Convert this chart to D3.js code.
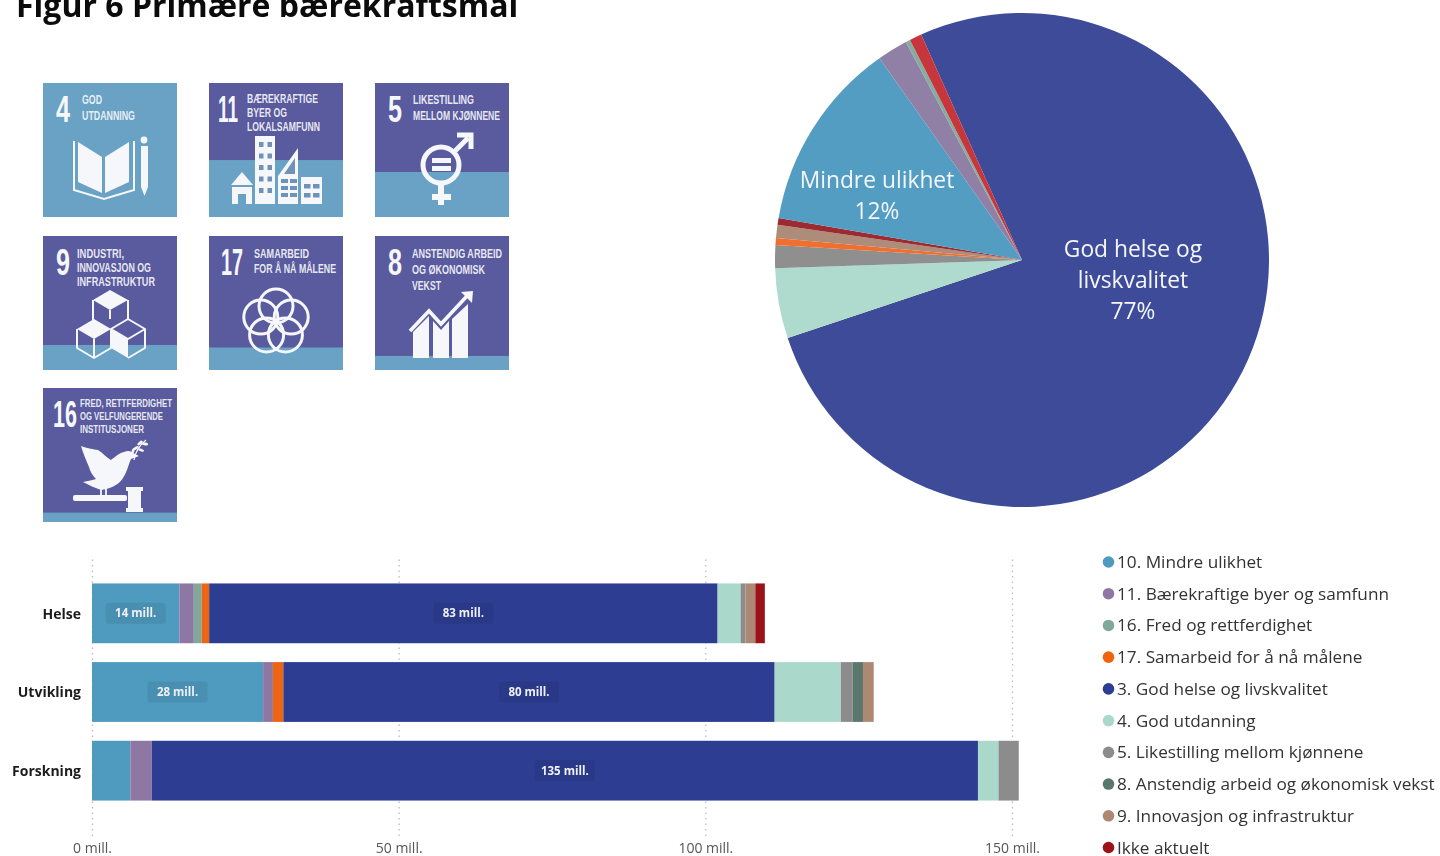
<!DOCTYPE html>
<html lang="no"><head><meta charset="utf-8">
<script src="https://cdn.jsdelivr.net/npm/d3@7/dist/d3.min.js"></script>
<style>
html,body{margin:0;padding:0;background:#fff;overflow:hidden}
svg{display:block}
.soft{filter:blur(.45px)}
</style></head><body>
<svg id="chart" width="1440" height="856"></svg>
<script>
// ---------- data ----------
const titleText = "Figur 6 Primære bærekraftsmål";
const goalNames = ["10. Mindre ulikhet","11. Bærekraftige byer og samfunn","16. Fred og rettferdighet","17. Samarbeid for å nå målene","3. God helse og livskvalitet","4. God utdanning","5. Likestilling mellom kjønnene","8. Anstendig arbeid og økonomisk vekst","9. Innovasjon og infrastruktur","Ikke aktuelt"];
const goalColors = ["#4f9abf","#8f77a3","#82a89c","#ef6410","#2d3d92","#aad9cb","#8c8c8c","#5a776e","#ad8873","#9b1218"];
const barCategories = ["Helse","Utvikling","Forskning"];
const helseValues     = [14.25,2.35,1.3,1.2,82.9,3.75,0.8,0,1.6,1.55];
const utviklingValues = [27.9,1.6,0,1.7,80.1,10.8,1.9,1.7,1.75,0];
const forskningValues = [6.25,3.5,0,0,134.7,3.35,3.3,0,0,0];
const axisTicks = [0,50,100,150];

const pieNames  = ["3","4","5","17","9","Ikke aktuelt","10","11","16","annet"];
const pieValues = [76.65,4.6,1.5,0.45,0.85,0.45,12.5,2.0,0.3,0.8];
const pieColors = ["#3e4b98","#aedbcd","#8f8f8f","#f06e2e","#ad8c79","#9c2a30","#539cc2","#9080a6","#82ad9f","#c8363d"];

const tileNumbers = ["4","11","5","9","17","8","16"];
const tileNumberWidths = [14,20,14,14,22,14,24];
const tileLabels = [
  ["GOD","UTDANNING"],
  ["BÆREKRAFTIGE","BYER OG","LOKALSAMFUNN"],
  ["LIKESTILLING","MELLOM KJØNNENE"],
  ["INDUSTRI,","INNOVASJON OG","INFRASTRUKTUR"],
  ["SAMARBEID","FOR Å NÅ MÅLENE"],
  ["ANSTENDIG ARBEID","OG ØKONOMISK","VEKST"],
  ["FRED, RETTFERDIGHET","OG VELFUNGERENDE","INSTITUSJONER"]
];
const tileLabelWidths = [[20,53],[71,40,73],[61,87],[47,74,78],[55,82],[90,73,29],[92,83,64]];
const tileBandShare = [1,0.425,0.336,0.187,0.168,0.105,0.07];

// ---------- layout ----------
const svg = d3.select("#chart");
svg.append("text").text(titleText).attr("x",16).attr("y",17)
  .attr("font-family","'Open Sans',sans-serif").attr("font-weight",700).attr("font-size",32).attr("fill","#0b0b0b")
  .attr("class","soft");

// ---------- tiles ----------
const TILE = 134, TOP = "#5a5a9e", LOW = "#69a2c4", W = "#f6f7fa";
const tileX = d3.scaleOrdinal().domain([0,1,2]).range([43,209,375]);
const tileY = d3.scaleOrdinal().domain([0,1,2]).range([83,236,388]);
const numLayout = {"4":[13,39],"11":[9,39],"5":[13,39],"9":[13,39],"17":[12,39],"8":[13,39],"16":[10,39]};
const lblLayout = {"4":[39,[21,37]],"11":[38,[20,34,48]],"5":[38,[21,37]],"9":[34,[22,36,50]],"17":[45,[22,37]],"8":[37,[22,38,54]],"16":[37,[19,32,45]]};

const icons = {
 "4"(g){
  g.append("path").attr("d","M35 59L59 74V110L35 99ZM86 59L62 74V110L86 99Z").attr("fill",W);
  g.append("path").attr("d","M31 58V107L61 116L91 107V58").attr("fill","none").attr("stroke",W).attr("stroke-width",2);
  g.append("circle").attr("cx",101).attr("cy",57).attr("r",3.4).attr("fill",W);
  g.append("path").attr("d","M98 63H105V104L101.5 113L98 104Z").attr("fill",W);
 },
 "11"(g){
  const win="#6f92bb";
  g.append("path").attr("d","M22 102L33 89L44 102ZM23 104H43V121H37V111H29V121H23Z").attr("fill",W);
  g.append("rect").attr("x",46).attr("y",53).attr("width",20).attr("height",68).attr("fill",W);
  d3.range(5).forEach(r=>[0,1].forEach(c=>g.append("rect").attr("x",50+c*8.5).attr("y",59+r*11.5).attr("width",4.5).attr("height",5).attr("fill",win)));
  g.append("path").attr("d","M69 121V93L89 65V121Z").attr("fill",W);
  [96,103,110].forEach(y=>[72,81].forEach(x=>g.append("rect").attr("x",x).attr("y",y).attr("width",7).attr("height",4).attr("fill",win)));
  g.append("path").attr("d","M75 91L86 75V91Z").attr("fill",win);
  g.append("rect").attr("x",92).attr("y",94).attr("width",21).attr("height",27).attr("fill",W);
  [101,110].forEach(y=>[95,104].forEach(x=>g.append("rect").attr("x",x).attr("y",y).attr("width",6.5).attr("height",4.5).attr("fill",win)));
 },
 "5"(g){
  g.append("circle").attr("cx",66).attr("cy",82).attr("r",18).attr("fill","none").attr("stroke",W).attr("stroke-width",5);
  g.append("path").attr("d","M78 70L93 55M82 52H96V66").attr("fill","none").attr("stroke",W).attr("stroke-width",5);
  g.append("path").attr("d","M66 100V122M57 114H76").attr("stroke",W).attr("stroke-width",6).attr("fill","none");
  g.append("path").attr("d","M57 75H76V80H57ZM57 83H76V88H57Z").attr("fill",W);
 },
 "9"(g){
  const line=d=>g.append("path").attr("d",d).attr("fill","none").attr("stroke",W).attr("stroke-width",2).attr("stroke-linejoin","round");
  g.append("path").attr("d","M50 64L67 54L85 64L67 74Z").attr("fill",W);
  line("M50 64V84M85 64V84M67 74V83");
  g.append("path").attr("d","M34 93L51 83L68 93L51 103Z").attr("fill",W);
  line("M34 93V112L51 122L68 112V93M51 103V122");
  line("M68 93L85 83L102 93L85 103ZM102 93V112L85 122");
  g.append("path").attr("d","M68 93L85 103V122L68 112Z").attr("fill",W);
 },
 "17"(g){
  d3.range(5).forEach(i=>{
   const a=(-90+72*i)*Math.PI/180;
   g.append("circle").attr("cx",67+16*Math.cos(a)).attr("cy",86+16*Math.sin(a)).attr("r",17)
     .attr("fill","none").attr("stroke",W).attr("stroke-width",3);
  });
 },
 "8"(g){
  g.append("path").attr("d","M38 96L54 80V122H38ZM58 85L66 94L74 85V122H58ZM77 83L93 68V122H77Z").attr("fill",W);
  g.append("path").attr("d","M35 95L54 75L66 88L92 60").attr("fill","none").attr("stroke",W).attr("stroke-width",3.6);
  g.append("path").attr("d","M86 56L98 55L97 67Z").attr("fill",W);
 },
 "16"(g){
  g.append("path").attr("d","M38 58C46 61 50 61 55 62C60 65 64 70 68 72C72 69 76 65 81 64C85 62 88 63 90 65L96 68L88 71C85 78 84 84 80 90C76 96 70 100 58 102C52 100 46 97 40 94C45 93 50 92 53 91C49 87 47 83 46 79C43 72 40 65 38 58Z").attr("fill",W);
  g.append("path").attr("d","M58 100V110M63 100V110").attr("stroke",W).attr("stroke-width",1.8);
  g.append("path").attr("d","M91 72Q93 60 103 52").attr("fill","none").attr("stroke",W).attr("stroke-width",1.2);
  [[93,60,-30],[97,55,-40],[98,62,20],[102,56,10],[90,63,-70]].forEach(([x,y,r])=>
    g.append("ellipse").attr("rx",3.2).attr("ry",1.4).attr("transform",`translate(${x},${y}) rotate(${r})`).attr("fill",W));
  g.append("rect").attr("x",30).attr("y",107).attr("width",54).attr("height",6).attr("rx",2).attr("fill",W);
  g.append("path").attr("d","M83 99H100V103H98V120H100V124H83V120H85V103H83Z").attr("fill",W);
 }
};

const tiles = svg.append("g").attr("class","soft").selectAll("g").data(tileNumbers).join("g")
  .attr("transform",(d,i)=>`translate(${tileX(i%3)},${tileY(Math.floor(i/3))})`);
tiles.append("rect").attr("width",TILE).attr("height",TILE).attr("fill",TOP);
tiles.append("rect").attr("y",(d,i)=>TILE*(1-tileBandShare[i])).attr("width",TILE)
  .attr("height",(d,i)=>TILE*tileBandShare[i]).attr("fill",LOW);
tiles.append("text").text(d=>d).attr("x",d=>numLayout[d][0]).attr("y",d=>numLayout[d][1])
  .attr("textLength",(d,i)=>tileNumberWidths[i]).attr("lengthAdjust","spacingAndGlyphs")
  .attr("font-family","'Liberation Sans Narrow',sans-serif").attr("font-weight",700).attr("font-size",37).attr("fill",W);
tiles.each(function(d,i){
  const g=d3.select(this);
  tileLabels[i].forEach((t,j)=>g.append("text").text(t).attr("x",lblLayout[d][0]).attr("y",lblLayout[d][1][j])
    .attr("textLength",tileLabelWidths[i][j]).attr("lengthAdjust","spacingAndGlyphs")
    .attr("font-family","'Liberation Sans Narrow',sans-serif").attr("font-weight",700)
    .attr("font-size",d==="16"?11:12).attr("fill",W).attr("fill-opacity",.92));
  icons[d](g);
});

// ---------- pie ----------
const pieG = svg.append("g").attr("transform","translate(1022,260)");
const pie = d3.pie().sort(null).value(d=>d).startAngle(-24.1*Math.PI/180).endAngle((360-24.1)*Math.PI/180);
const arc = d3.arc().innerRadius(0).outerRadius(247);
pieG.selectAll("path").data(pie(pieValues)).join("path").attr("d",arc).attr("fill",(d,i)=>pieColors[i]);
const pieFont = "'Open Sans',sans-serif";
function pieLabel(lines,cx,ys){
  lines.forEach((t,i)=>svg.append("text").text(t).attr("x",cx).attr("y",ys[i]).attr("text-anchor","middle")
    .attr("font-family",pieFont).attr("font-size",22.8).attr("fill","#f4f7fa").attr("class","soft"));
}
pieLabel(["Mindre ulikhet","12%"],877,[188,219]);
pieLabel(["God helse og","livskvalitet","77%"],1133,[257,288,319]);

// ---------- stacked bars ----------
const x = d3.scaleLinear().domain([0,150]).range([92,1012]);
const y = d3.scaleBand().domain(barCategories).range([574,810]).paddingInner(0.24).paddingOuter(0.12);
const axisFont = "'Open Sans',sans-serif";
const barG = svg.append("g").attr("class","soft");
const axis = d3.axisBottom(x).tickValues(axisTicks).tickFormat(d=>d+" mill.").tickSize(0);
const ax = barG.append("g").attr("transform","translate(0,836)").call(axis);
ax.select(".domain").remove();
ax.selectAll(".tick text").attr("y",7).attr("dy","0.71em").attr("font-family",axisFont).attr("font-size",14).attr("fill","#555");
ax.selectAll(".tick").append("line").attr("y1",0).attr("y2",-280).attr("stroke","#bdbdbd").attr("stroke-width",1.3).attr("stroke-dasharray","1.5 4");

const rows = [helseValues,utviklingValues,forskningValues];
const stackKeys = d3.range(goalNames.length);
const stacked = d3.stack().keys(stackKeys).value((row,k)=>row[k])(rows);
const layers = barG.selectAll("g.layer").data(stacked).join("g").attr("class","layer").attr("fill",(d,i)=>goalColors[i]);
layers.selectAll("rect").data(d=>d.map((s,r)=>({s,r}))).join("rect")
  .attr("x",d=>x(d.s[0])).attr("width",d=>x(d.s[1])-x(d.s[0]))
  .attr("y",d=>y(barCategories[d.r])).attr("height",y.bandwidth());
stacked.forEach((layer,k)=>layer.forEach((s,r)=>{
  const v=s[1]-s[0]; if(v<14) return;
  const cx=x((s[0]+s[1])/2), cy=y(barCategories[r])+y.bandwidth()/2;
  barG.append("rect").attr("x",cx-30).attr("y",cy-10.5).attr("width",60).attr("height",21).attr("rx",3).attr("fill","#000").attr("fill-opacity",.07);
  barG.append("text").text(Math.round(v)+" mill.").attr("x",cx).attr("y",cy).attr("dy","0.35em").attr("text-anchor","middle")
    .attr("font-family",axisFont).attr("font-weight",700).attr("font-size",11.5).attr("fill","#eef1f6");
}));
barG.selectAll("text.cat").data(barCategories).join("text").attr("class","cat").text(d=>d)
  .attr("x",81).attr("y",d=>y(d)+y.bandwidth()/2+0.5).attr("dy","0.35em").attr("text-anchor","end")
  .attr("font-family",axisFont).attr("font-weight",700).attr("font-size",14).attr("fill","#1c1c1c");

// ---------- legend ----------
const legY = d3.scalePoint().domain(goalNames).range([562,847.5]);
const leg = svg.append("g").attr("class","soft").selectAll("g").data(goalNames).join("g").attr("transform",d=>`translate(0,${legY(d)})`);
leg.append("circle").attr("cx",1108.5).attr("r",5.8).attr("fill",(d,i)=>goalColors[i]);
leg.append("text").text(d=>d).attr("x",1117).attr("dy","0.35em").attr("font-family",axisFont).attr("font-size",17.2).attr("fill","#333");
</script>
</body></html>
